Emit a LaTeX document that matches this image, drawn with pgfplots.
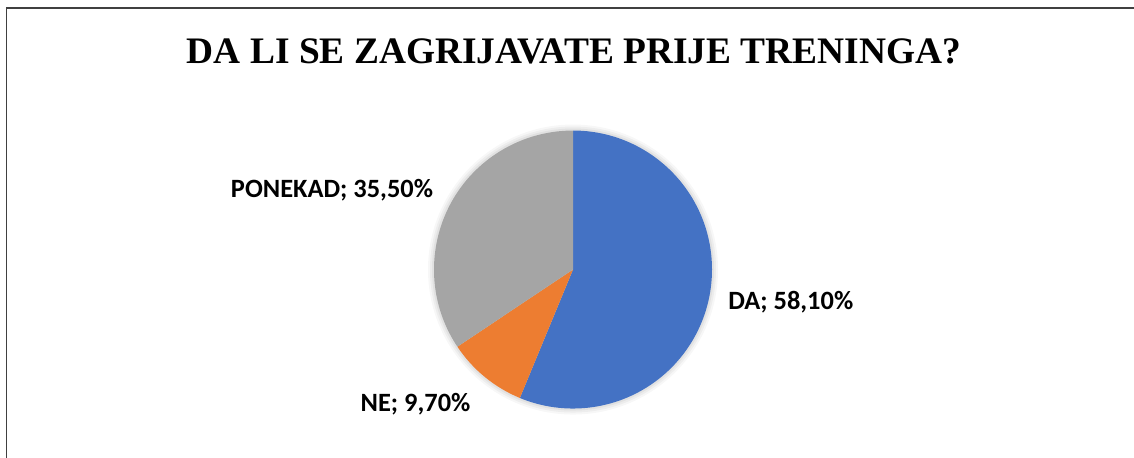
\documentclass[border=0pt]{standalone}
\usepackage{pgfplots}
\pgfplotsset{compat=1.18}
\usepackage{fontspec}
\setmainfont{Liberation Serif}
\newfontfamily\carlito{Carlito}
\definecolor{cDA}{HTML}{4472C4}
\definecolor{cNE}{HTML}{ED7D31}
\definecolor{cPO}{HTML}{A5A5A5}
\definecolor{framec}{HTML}{404040}
% values (percent) as given in the chart
\def\vDA{58.1}
\def\vNE{9.7}
\def\vPO{35.5}
\pgfmathsetmacro\tot{\vDA+\vNE+\vPO}
\pgfmathsetmacro\aB{90-360*(\vDA/\tot)}
\pgfmathsetmacro\aC{\aB-360*(\vNE/\tot)}
\def\R{69.5pt}
\begin{document}
\begin{tikzpicture}
\begin{axis}[hide axis, scale only axis, width=567pt, height=228.5pt,
  xmin=0, xmax=1134, ymin=0, ymax=457, clip=false]
\coordinate (bl) at (axis cs:0,0);
\coordinate (tr) at (axis cs:1134,457);
\coordinate (c) at (axis cs:573,188);
% soft shadow
\fill[black, opacity=0.03] (c) circle[radius=72.5pt];
\fill[black, opacity=0.04] (c) circle[radius=71.5pt];
\fill[black, opacity=0.05] (c) circle[radius=70.5pt];
% slices
\fill[cDA] (c) -- ++(90:\R) arc[start angle=90, end angle=\aB, radius=\R] -- cycle;
\fill[cNE] (c) -- ++(\aB:\R) arc[start angle=\aB, end angle=\aC, radius=\R] -- cycle;
\fill[cPO] (c) -- ++(\aC:\R) arc[start angle=\aC, end angle=-270, radius=\R] -- cycle;
% labels
\node[anchor=base west, inner sep=0pt, font=\carlito\bfseries\fontsize{13.2}{15}\selectfont] at (axis cs:728,148) {DA; 58,10\%};
\node[anchor=base, inner sep=0pt, font=\carlito\bfseries\fontsize{13.2}{15}\selectfont] at (axis cs:415.5,46) {NE; 9,70\%};
\node[anchor=base, inner sep=0pt, font=\carlito\bfseries\fontsize{13.2}{15}\selectfont] at (axis cs:332,260) {PONEKAD; 35,50\%};
% title
\node[anchor=base, inner sep=0pt, font=\bfseries\fontsize{18.7}{22}\selectfont] at (axis cs:574,394) {DA LI SE ZAGRIJAVATE PRIJE TRENINGA?};
% frame
\draw[framec, line width=0.75pt] (axis cs:6.5,0) -- (axis cs:6.5,449) -- (axis cs:1134,449);
\end{axis}
\pgfresetboundingbox
\path[use as bounding box] (bl) rectangle (tr);
\end{tikzpicture}
\end{document}
